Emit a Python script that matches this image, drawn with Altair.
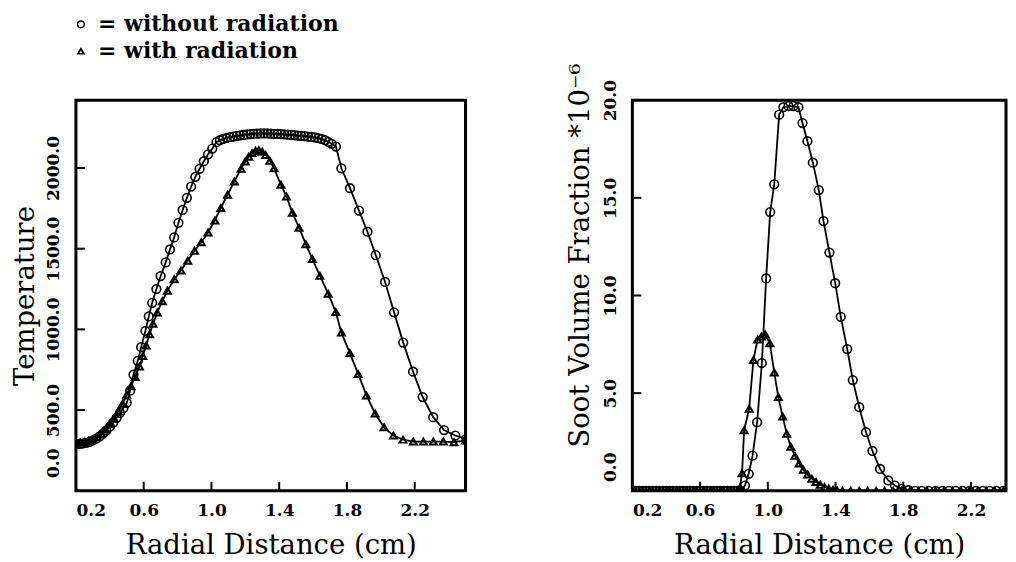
import altair as alt
import pandas as pd

# ---------------- data ----------------
# Left panel: temperature vs radial distance
temp_norad = [  # (x cm, T)  circles = without radiation
    [0.20, 290], [0.22, 291], [0.24, 293], [0.26, 297], [0.28, 303], [0.30, 312],
    [0.32, 323], [0.34, 337], [0.36, 354], [0.38, 374], [0.40, 397], [0.42, 423],
    [0.44, 452], [0.46, 482], [0.48, 512], [0.50, 545], [0.52, 620], [0.54, 720],
    [0.565, 805], [0.585, 890], [0.61, 990], [0.63, 1080], [0.65, 1165], [0.675, 1250],
    [0.70, 1330], [0.73, 1415], [0.755, 1495], [0.78, 1570], [0.805, 1660], [0.83, 1740],
    [0.855, 1815], [0.88, 1885], [0.905, 1945], [0.93, 1995], [0.955, 2042], [0.98, 2085],
    [1.005, 2120], [1.03, 2160], [1.05, 2172], [1.07, 2180], [1.09, 2186], [1.11, 2191],
    [1.13, 2195], [1.15, 2199], [1.17, 2202], [1.19, 2205], [1.21, 2208], [1.23, 2210],
    [1.25, 2212], [1.27, 2213], [1.29, 2214], [1.31, 2214], [1.33, 2214], [1.35, 2213],
    [1.37, 2212], [1.39, 2211], [1.41, 2210], [1.43, 2208], [1.45, 2207], [1.47, 2205],
    [1.49, 2203], [1.51, 2201], [1.53, 2199], [1.55, 2197], [1.57, 2195], [1.59, 2192],
    [1.61, 2189], [1.63, 2185], [1.65, 2180], [1.67, 2172], [1.69, 2162], [1.71, 2150],
    [1.735, 2133], [1.767, 1998], [1.818, 1875], [1.871, 1736], [1.921, 1605], [1.97, 1460],
    [2.025, 1294], [2.078, 1106], [2.132, 918], [2.19, 738], [2.247, 581], [2.309, 456],
    [2.373, 376], [2.44, 342], [2.505, 322],
]
temp_rad = [  # (x cm, T)  triangles = with radiation
    [0.200, 298], [0.225, 299], [0.25, 303], [0.275, 310], [0.30, 320], [0.325, 335],
    [0.35, 355], [0.375, 380], [0.40, 412], [0.425, 450], [0.45, 492], [0.475, 540],
    [0.50, 595], [0.525, 648], [0.55, 705], [0.575, 770], [0.595, 835], [0.615, 900],
    [0.635, 970], [0.655, 1035], [0.68, 1105], [0.71, 1175], [0.74, 1240], [0.78, 1310],
    [0.82, 1365], [0.86, 1425], [0.90, 1487], [0.94, 1540], [0.98, 1600], [1.02, 1675],
    [1.055, 1752], [1.095, 1834], [1.135, 1916], [1.175, 1995], [1.20, 2040], [1.22, 2070],
    [1.24, 2092], [1.26, 2106], [1.28, 2110], [1.30, 2100], [1.32, 2080], [1.345, 2045],
    [1.37, 1998], [1.41, 1896], [1.443, 1824], [1.478, 1722], [1.517, 1630], [1.557, 1528],
    [1.596, 1436], [1.64, 1333], [1.689, 1221], [1.734, 1108], [1.767, 980], [1.817, 853],
    [1.866, 724], [1.915, 591], [1.966, 479], [2.019, 393], [2.074, 342], [2.131, 317],
    [2.192, 305], [2.251, 305], [2.31, 305], [2.369, 305], [2.432, 301], [2.50, 312],
]

# Right panel: soot volume fraction (x 1e-6) vs radial distance
soot_norad = [
    [0.20, 0], [0.22, 0], [0.24, 0], [0.26, 0], [0.28, 0], [0.30, 0], [0.32, 0], [0.34, 0],
    [0.36, 0], [0.38, 0], [0.40, 0], [0.42, 0], [0.44, 0], [0.46, 0], [0.48, 0], [0.50, 0],
    [0.52, 0], [0.54, 0], [0.56, 0], [0.58, 0], [0.60, 0], [0.62, 0], [0.64, 0], [0.66, 0],
    [0.68, 0], [0.70, 0], [0.72, 0], [0.74, 0], [0.76, 0], [0.78, 0], [0.80, 0], [0.82, 0],
    [0.84, 0], [0.865, 0.27], [0.887, 0.87], [0.91, 1.8], [0.937, 3.51], [0.965, 6.54],
    [0.99, 10.87], [1.014, 14.27], [1.038, 15.69], [1.067, 19.26], [1.092, 19.64],
    [1.122, 19.7], [1.152, 19.7], [1.181, 19.64], [1.205, 18.83], [1.234, 17.9],
    [1.266, 16.8], [1.301, 15.4], [1.329, 13.81], [1.364, 12.2], [1.398, 10.63],
    [1.431, 8.91], [1.469, 7.26], [1.502, 5.67], [1.54, 4.28], [1.58, 3.0], [1.618, 2.04],
    [1.663, 1.12], [1.712, 0.53], [1.751, 0.27], [1.79, 0.1], [1.83, 0.03], [1.87, 0],
    [1.91, 0], [1.95, 0], [1.99, 0], [2.03, 0], [2.07, 0], [2.11, 0], [2.15, 0], [2.19, 0],
    [2.23, 0], [2.27, 0], [2.31, 0], [2.35, 0], [2.39, 0], [2.43, 0], [2.47, 0],
]
soot_rad = [
    [0.20, 0], [0.22, 0], [0.24, 0], [0.26, 0], [0.28, 0], [0.30, 0], [0.32, 0], [0.34, 0],
    [0.36, 0], [0.38, 0], [0.40, 0], [0.42, 0], [0.44, 0], [0.46, 0], [0.48, 0], [0.50, 0],
    [0.52, 0], [0.54, 0], [0.56, 0], [0.58, 0], [0.60, 0], [0.62, 0], [0.64, 0], [0.66, 0],
    [0.68, 0], [0.70, 0], [0.72, 0], [0.74, 0], [0.76, 0], [0.78, 0], [0.80, 0], [0.82, 0],
    [0.835, 0.15], [0.848, 0.9], [0.86, 3.1], [0.89, 4.2], [0.915, 6.7], [0.94, 7.75],
    [0.962, 7.9], [0.985, 8.0], [1.012, 7.55], [1.038, 6.06], [1.062, 4.8], [1.088, 3.8],
    [1.112, 2.92], [1.136, 2.25], [1.16, 1.8], [1.185, 1.4], [1.21, 1.08], [1.235, 0.83],
    [1.26, 0.62], [1.285, 0.45], [1.31, 0.31], [1.335, 0.2], [1.36, 0.12], [1.385, 0.06],
    [1.41, 0.02], [1.44, 0], [1.49, 0], [1.54, 0], [1.59, 0], [1.64, 0], [1.69, 0],
    [1.74, 0], [1.79, 0], [1.84, 0], [1.89, 0], [1.94, 0], [1.99, 0], [2.04, 0], [2.09, 0],
    [2.14, 0], [2.19, 0], [2.24, 0], [2.29, 0], [2.34, 0], [2.39, 0], [2.44, 0], [2.49, 0],
]

x_tick_values = [0.2, 0.6, 1.0, 1.4, 1.8, 2.2]
x_inner_ticks = [0.6, 1.0, 1.4, 1.8, 2.2]
temp_tick_values = [0, 500, 1000, 1500, 2000]
temp_inner_ticks = [500, 1000, 1500, 2000]
soot_tick_values = [0, 5, 10, 15, 20]
soot_inner_ticks = [5, 10, 15]
series_names = ["without radiation", "with radiation"]
legend_texts = ["= without radiation", "= with radiation"]

FONT = "DejaVu Serif"
W1, H1 = 390, 391
W2, H2 = 374, 391
TICK = 9


def frame(rows, name):
    return pd.DataFrame({"x": [r[0] for r in rows], "y": [r[1] for r in rows], "s": name})


def panel(df_a, df_b, xdom, ydom, w, h, yvals, yinner, ytitle, ytitle_x, ytitle_y,
          zero_off, legend):
    xenc = alt.X("x:Q", scale=alt.Scale(domain=xdom, nice=False, zero=False),
                 axis=alt.Axis(values=x_tick_values, format=".1f", title="Radial Distance (cm)",
                               labelFlush=True, labelPadding=12, titlePadding=13))
    yenc = alt.Y("y:Q", scale=alt.Scale(domain=ydom, nice=False, zero=False),
                 axis=alt.Axis(values=yvals, format=".1f", title=ytitle, labelAngle=-90,
                               labelAlign="center", labelBaseline="bottom", labelPadding=13,
                               labelOffset={"condition": {"test": "datum.value === 0",
                                                          "value": zero_off},
                                            "value": 0},
                               titleAngle=-90, titleX=ytitle_x, titleY=ytitle_y,
                               titleAlign="center", titleBaseline="alphabetic"))
    both = pd.concat([df_a, df_b])
    line = alt.Chart(both).mark_line(color="black", strokeWidth=1.8, clip=True).encode(
        x=xenc, y=yenc, detail="s:N")
    circ = alt.Chart(df_a).mark_point(shape="circle", size=75, filled=False, color="black",
                                      strokeWidth=1.6, opacity=1, clip=True).encode(x=xenc, y=yenc)
    tri = alt.Chart(df_b).mark_point(shape="triangle-up", size=48, filled=False, color="black",
                                     strokeWidth=2.0, opacity=1, clip=True).encode(x=xenc, y=yenc)
    xt = alt.Chart(pd.DataFrame({"x": x_inner_ticks})).mark_rule(color="black", strokeWidth=2).encode(
        x=xenc, y=alt.value(h), y2=alt.value(h - TICK))
    yt = alt.Chart(pd.DataFrame({"y": yinner})).mark_rule(color="black", strokeWidth=2).encode(
        y=yenc, x=alt.value(0), x2=alt.value(TICK))
    layers = [line, circ, tri, xt, yt]
    if legend:
        leg_df = pd.DataFrame({"t": legend_texts, "s": series_names})
        t1 = alt.Chart(leg_df.iloc[[0]]).mark_text(
            align="left", baseline="alphabetic", font=FONT, fontSize=22, fontWeight="bold",
            color="black").encode(text="t:N", x=alt.value(22), y=alt.value(-69))
        t2 = alt.Chart(leg_df.iloc[[1]]).mark_text(
            align="left", baseline="alphabetic", font=FONT, fontSize=22, fontWeight="bold",
            color="black").encode(text="t:N", x=alt.value(22), y=alt.value(-42))
        p1 = alt.Chart(leg_df.iloc[[0]]).mark_point(
            shape="circle", size=45, filled=False, color="black", strokeWidth=1.5, opacity=1
        ).encode(x=alt.value(5), y=alt.value(-76))
        p2 = alt.Chart(leg_df.iloc[[1]]).mark_point(
            shape="triangle-up", size=34, filled=False, color="black", strokeWidth=1.7, opacity=1
        ).encode(x=alt.value(5), y=alt.value(-49))
        layers += [t1, t2, p1, p2]
    return alt.layer(*layers).properties(width=w, height=h)


left = panel(frame(temp_norad, series_names[0]), frame(temp_rad, series_names[1]),
             [0.2, 2.5], [0, 2420], W1, H1, temp_tick_values, temp_inner_ticks,
             "Temperature", -42, H1 / 2, -28, True)
right = panel(frame(soot_norad, series_names[0]), frame(soot_rad, series_names[1]),
              [0.2, 2.407], [0, 20], W2, H2, soot_tick_values, soot_inner_ticks,
              "Soot Volume Fraction   *10\u207b\u2076", -44, 155, -24, False)

chart = alt.hconcat(left, right, spacing=167, bounds="flush",
                    padding={"left": 2, "top": 3, "right": 0, "bottom": 0},
                    background="white").configure_view(
    stroke="black", strokeWidth=3
).configure_axis(
    domain=False, ticks=False, grid=False,
    labelFont=FONT, labelFontSize=17, labelFontWeight="bold", labelColor="black",
    titleFont=FONT, titleFontSize=27.5, titleFontWeight="normal", titleColor="black",
)

chart.save("out.html", embed_options={"renderer": "svg", "actions": False})
